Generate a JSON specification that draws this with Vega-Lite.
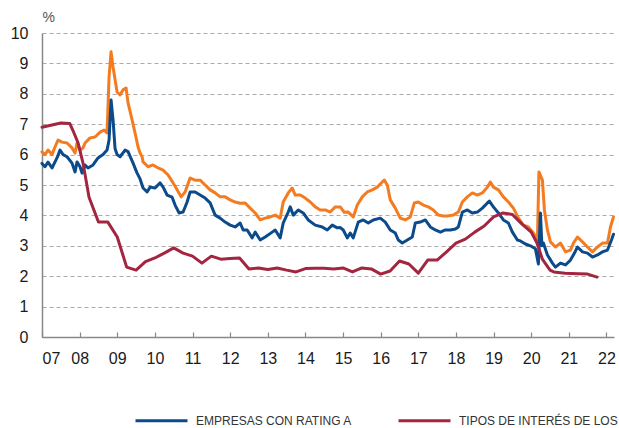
{
"$schema": "https://vega.github.io/schema/vega-lite/v6.json",
"width": 572, "height": 304,
"autosize": {"type": "none"},
"padding": {"left": 42, "top": 33, "right": 5, "bottom": 91},
"background": "white",
"config": {"view": {"stroke": null}, "font": "Liberation Sans"},
"data": {"values": [
{"s":"BBB","t":2007.000,"v":6.09},{"s":"BBB","t":2007.080,"v":6.00},{"s":"BBB","t":2007.160,"v":6.15},{"s":"BBB","t":2007.266,"v":6.00},{"s":"BBB","t":2007.346,"v":6.25},{"s":"BBB","t":2007.426,"v":6.48},{"s":"BBB","t":2007.532,"v":6.41},{"s":"BBB","t":2007.665,"v":6.38},{"s":"BBB","t":2007.798,"v":6.22},{"s":"BBB","t":2007.878,"v":6.05},{"s":"BBB","t":2007.931,"v":6.38},{"s":"BBB","t":2008.011,"v":6.15},{"s":"BBB","t":2008.090,"v":6.22},{"s":"BBB","t":2008.144,"v":6.38},{"s":"BBB","t":2008.277,"v":6.55},{"s":"BBB","t":2008.410,"v":6.58},{"s":"BBB","t":2008.543,"v":6.74},{"s":"BBB","t":2008.649,"v":6.81},{"s":"BBB","t":2008.729,"v":6.71},{"s":"BBB","t":2008.782,"v":8.55},{"s":"BBB","t":2008.835,"v":9.38},{"s":"BBB","t":2008.888,"v":8.88},{"s":"BBB","t":2008.995,"v":8.06},{"s":"BBB","t":2009.074,"v":7.96},{"s":"BBB","t":2009.154,"v":8.13},{"s":"BBB","t":2009.234,"v":8.19},{"s":"BBB","t":2009.287,"v":7.70},{"s":"BBB","t":2009.394,"v":7.14},{"s":"BBB","t":2009.473,"v":6.71},{"s":"BBB","t":2009.553,"v":6.25},{"s":"BBB","t":2009.606,"v":6.05},{"s":"BBB","t":2009.660,"v":5.93},{"s":"BBB","t":2009.686,"v":5.76},{"s":"BBB","t":2009.819,"v":5.60},{"s":"BBB","t":2009.952,"v":5.66},{"s":"BBB","t":2010.085,"v":5.56},{"s":"BBB","t":2010.218,"v":5.49},{"s":"BBB","t":2010.351,"v":5.33},{"s":"BBB","t":2010.484,"v":5.07},{"s":"BBB","t":2010.590,"v":4.84},{"s":"BBB","t":2010.697,"v":4.61},{"s":"BBB","t":2010.803,"v":4.77},{"s":"BBB","t":2010.936,"v":5.23},{"s":"BBB","t":2011.069,"v":5.16},{"s":"BBB","t":2011.202,"v":5.16},{"s":"BBB","t":2011.335,"v":5.00},{"s":"BBB","t":2011.468,"v":4.84},{"s":"BBB","t":2011.601,"v":4.74},{"s":"BBB","t":2011.734,"v":4.61},{"s":"BBB","t":2011.867,"v":4.61},{"s":"BBB","t":2012.000,"v":4.51},{"s":"BBB","t":2012.133,"v":4.44},{"s":"BBB","t":2012.266,"v":4.40},{"s":"BBB","t":2012.399,"v":4.41},{"s":"BBB","t":2012.532,"v":4.24},{"s":"BBB","t":2012.665,"v":4.08},{"s":"BBB","t":2012.798,"v":3.85},{"s":"BBB","t":2012.931,"v":3.91},{"s":"BBB","t":2013.064,"v":3.95},{"s":"BBB","t":2013.197,"v":4.01},{"s":"BBB","t":2013.330,"v":3.91},{"s":"BBB","t":2013.410,"v":4.44},{"s":"BBB","t":2013.543,"v":4.74},{"s":"BBB","t":2013.649,"v":4.90},{"s":"BBB","t":2013.729,"v":4.67},{"s":"BBB","t":2013.862,"v":4.67},{"s":"BBB","t":2013.995,"v":4.57},{"s":"BBB","t":2014.128,"v":4.44},{"s":"BBB","t":2014.261,"v":4.28},{"s":"BBB","t":2014.394,"v":4.18},{"s":"BBB","t":2014.527,"v":4.18},{"s":"BBB","t":2014.660,"v":4.11},{"s":"BBB","t":2014.793,"v":4.28},{"s":"BBB","t":2014.926,"v":4.28},{"s":"BBB","t":2015.032,"v":4.10},{"s":"BBB","t":2015.138,"v":4.11},{"s":"BBB","t":2015.271,"v":3.95},{"s":"BBB","t":2015.378,"v":4.34},{"s":"BBB","t":2015.511,"v":4.61},{"s":"BBB","t":2015.644,"v":4.77},{"s":"BBB","t":2015.777,"v":4.84},{"s":"BBB","t":2015.910,"v":4.93},{"s":"BBB","t":2016.043,"v":5.10},{"s":"BBB","t":2016.096,"v":5.16},{"s":"BBB","t":2016.176,"v":5.00},{"s":"BBB","t":2016.255,"v":4.51},{"s":"BBB","t":2016.388,"v":4.24},{"s":"BBB","t":2016.521,"v":3.91},{"s":"BBB","t":2016.654,"v":3.85},{"s":"BBB","t":2016.787,"v":3.95},{"s":"BBB","t":2016.894,"v":4.41},{"s":"BBB","t":2017.000,"v":4.44},{"s":"BBB","t":2017.133,"v":4.34},{"s":"BBB","t":2017.266,"v":4.28},{"s":"BBB","t":2017.399,"v":4.18},{"s":"BBB","t":2017.532,"v":4.01},{"s":"BBB","t":2017.665,"v":3.98},{"s":"BBB","t":2017.771,"v":3.98},{"s":"BBB","t":2017.931,"v":4.01},{"s":"BBB","t":2018.064,"v":4.11},{"s":"BBB","t":2018.170,"v":4.44},{"s":"BBB","t":2018.303,"v":4.61},{"s":"BBB","t":2018.436,"v":4.74},{"s":"BBB","t":2018.569,"v":4.67},{"s":"BBB","t":2018.702,"v":4.74},{"s":"BBB","t":2018.835,"v":4.93},{"s":"BBB","t":2018.915,"v":5.10},{"s":"BBB","t":2018.995,"v":4.93},{"s":"BBB","t":2019.128,"v":4.84},{"s":"BBB","t":2019.261,"v":4.61},{"s":"BBB","t":2019.394,"v":4.44},{"s":"BBB","t":2019.527,"v":4.24},{"s":"BBB","t":2019.660,"v":3.91},{"s":"BBB","t":2019.793,"v":3.68},{"s":"BBB","t":2019.926,"v":3.62},{"s":"BBB","t":2020.059,"v":3.42},{"s":"BBB","t":2020.165,"v":3.19},{"s":"BBB","t":2020.205,"v":5.43},{"s":"BBB","t":2020.298,"v":5.16},{"s":"BBB","t":2020.351,"v":4.18},{"s":"BBB","t":2020.431,"v":3.52},{"s":"BBB","t":2020.511,"v":3.13},{"s":"BBB","t":2020.644,"v":2.96},{"s":"BBB","t":2020.777,"v":3.09},{"s":"BBB","t":2020.910,"v":2.80},{"s":"BBB","t":2021.043,"v":2.86},{"s":"BBB","t":2021.122,"v":3.09},{"s":"BBB","t":2021.229,"v":3.29},{"s":"BBB","t":2021.362,"v":3.13},{"s":"BBB","t":2021.495,"v":2.96},{"s":"BBB","t":2021.628,"v":2.80},{"s":"BBB","t":2021.761,"v":2.96},{"s":"BBB","t":2021.894,"v":3.09},{"s":"BBB","t":2022.027,"v":3.09},{"s":"BBB","t":2022.106,"v":3.62},{"s":"BBB","t":2022.186,"v":3.95},
{"s":"A","t":2007.000,"v":5.71},{"s":"A","t":2007.080,"v":5.60},{"s":"A","t":2007.160,"v":5.75},{"s":"A","t":2007.266,"v":5.56},{"s":"A","t":2007.399,"v":5.89},{"s":"A","t":2007.479,"v":6.15},{"s":"A","t":2007.559,"v":6.00},{"s":"A","t":2007.665,"v":5.93},{"s":"A","t":2007.798,"v":5.72},{"s":"A","t":2007.878,"v":5.43},{"s":"A","t":2007.931,"v":5.76},{"s":"A","t":2008.011,"v":5.60},{"s":"A","t":2008.064,"v":5.39},{"s":"A","t":2008.144,"v":5.66},{"s":"A","t":2008.223,"v":5.56},{"s":"A","t":2008.356,"v":5.66},{"s":"A","t":2008.489,"v":5.89},{"s":"A","t":2008.622,"v":6.00},{"s":"A","t":2008.729,"v":6.15},{"s":"A","t":2008.782,"v":6.48},{"s":"A","t":2008.835,"v":7.80},{"s":"A","t":2008.888,"v":7.14},{"s":"A","t":2008.941,"v":6.20},{"s":"A","t":2008.995,"v":6.00},{"s":"A","t":2009.074,"v":5.93},{"s":"A","t":2009.207,"v":6.15},{"s":"A","t":2009.287,"v":6.10},{"s":"A","t":2009.420,"v":5.72},{"s":"A","t":2009.527,"v":5.39},{"s":"A","t":2009.606,"v":5.20},{"s":"A","t":2009.686,"v":4.90},{"s":"A","t":2009.793,"v":4.77},{"s":"A","t":2009.872,"v":4.93},{"s":"A","t":2010.005,"v":4.90},{"s":"A","t":2010.138,"v":5.07},{"s":"A","t":2010.218,"v":4.93},{"s":"A","t":2010.324,"v":4.67},{"s":"A","t":2010.457,"v":4.60},{"s":"A","t":2010.537,"v":4.34},{"s":"A","t":2010.644,"v":4.08},{"s":"A","t":2010.750,"v":4.11},{"s":"A","t":2010.856,"v":4.44},{"s":"A","t":2010.936,"v":4.77},{"s":"A","t":2011.069,"v":4.77},{"s":"A","t":2011.202,"v":4.67},{"s":"A","t":2011.335,"v":4.57},{"s":"A","t":2011.468,"v":4.41},{"s":"A","t":2011.601,"v":4.01},{"s":"A","t":2011.734,"v":3.91},{"s":"A","t":2011.867,"v":3.78},{"s":"A","t":2012.000,"v":3.68},{"s":"A","t":2012.133,"v":3.62},{"s":"A","t":2012.266,"v":3.75},{"s":"A","t":2012.346,"v":3.52},{"s":"A","t":2012.452,"v":3.52},{"s":"A","t":2012.585,"v":3.26},{"s":"A","t":2012.665,"v":3.45},{"s":"A","t":2012.798,"v":3.19},{"s":"A","t":2012.931,"v":3.29},{"s":"A","t":2013.117,"v":3.45},{"s":"A","t":2013.197,"v":3.52},{"s":"A","t":2013.330,"v":3.26},{"s":"A","t":2013.410,"v":3.75},{"s":"A","t":2013.543,"v":4.11},{"s":"A","t":2013.596,"v":4.28},{"s":"A","t":2013.676,"v":4.01},{"s":"A","t":2013.809,"v":4.18},{"s":"A","t":2013.941,"v":4.08},{"s":"A","t":2014.074,"v":3.85},{"s":"A","t":2014.261,"v":3.68},{"s":"A","t":2014.447,"v":3.62},{"s":"A","t":2014.580,"v":3.52},{"s":"A","t":2014.713,"v":3.68},{"s":"A","t":2014.846,"v":3.59},{"s":"A","t":2014.926,"v":3.60},{"s":"A","t":2015.005,"v":3.52},{"s":"A","t":2015.112,"v":3.26},{"s":"A","t":2015.191,"v":3.42},{"s":"A","t":2015.271,"v":3.26},{"s":"A","t":2015.404,"v":3.78},{"s":"A","t":2015.537,"v":3.85},{"s":"A","t":2015.670,"v":3.75},{"s":"A","t":2015.803,"v":3.85},{"s":"A","t":2015.989,"v":3.91},{"s":"A","t":2016.122,"v":3.78},{"s":"A","t":2016.255,"v":3.52},{"s":"A","t":2016.388,"v":3.42},{"s":"A","t":2016.468,"v":3.19},{"s":"A","t":2016.574,"v":3.09},{"s":"A","t":2016.707,"v":3.19},{"s":"A","t":2016.840,"v":3.29},{"s":"A","t":2016.920,"v":3.75},{"s":"A","t":2017.053,"v":3.78},{"s":"A","t":2017.186,"v":3.85},{"s":"A","t":2017.319,"v":3.62},{"s":"A","t":2017.452,"v":3.52},{"s":"A","t":2017.585,"v":3.45},{"s":"A","t":2017.718,"v":3.52},{"s":"A","t":2017.851,"v":3.52},{"s":"A","t":2017.984,"v":3.55},{"s":"A","t":2018.064,"v":3.62},{"s":"A","t":2018.170,"v":4.11},{"s":"A","t":2018.303,"v":4.18},{"s":"A","t":2018.436,"v":4.08},{"s":"A","t":2018.569,"v":4.11},{"s":"A","t":2018.702,"v":4.24},{"s":"A","t":2018.835,"v":4.41},{"s":"A","t":2018.888,"v":4.47},{"s":"A","t":2018.995,"v":4.28},{"s":"A","t":2019.128,"v":4.08},{"s":"A","t":2019.261,"v":3.85},{"s":"A","t":2019.394,"v":3.75},{"s":"A","t":2019.500,"v":3.45},{"s":"A","t":2019.633,"v":3.19},{"s":"A","t":2019.713,"v":3.16},{"s":"A","t":2019.846,"v":3.06},{"s":"A","t":2019.979,"v":3.00},{"s":"A","t":2020.112,"v":2.90},{"s":"A","t":2020.191,"v":2.40},{"s":"A","t":2020.245,"v":4.08},{"s":"A","t":2020.285,"v":3.00},{"s":"A","t":2020.324,"v":3.09},{"s":"A","t":2020.431,"v":2.70},{"s":"A","t":2020.564,"v":2.43},{"s":"A","t":2020.644,"v":2.30},{"s":"A","t":2020.777,"v":2.43},{"s":"A","t":2020.910,"v":2.37},{"s":"A","t":2021.043,"v":2.53},{"s":"A","t":2021.149,"v":2.76},{"s":"A","t":2021.229,"v":2.96},{"s":"A","t":2021.362,"v":2.80},{"s":"A","t":2021.495,"v":2.76},{"s":"A","t":2021.628,"v":2.63},{"s":"A","t":2021.761,"v":2.70},{"s":"A","t":2021.894,"v":2.80},{"s":"A","t":2022.027,"v":2.86},{"s":"A","t":2022.133,"v":3.19},{"s":"A","t":2022.186,"v":3.38},
{"s":"P","t":2007.0,"v":6.9},{"s":"P","t":2007.5,"v":7.04},{"s":"P","t":2007.74,"v":7.02},{"s":"P","t":2007.82,"v":6.8},{"s":"P","t":2007.96,"v":6.38},{"s":"P","t":2008.09,"v":5.72},{"s":"P","t":2008.25,"v":4.6},{"s":"P","t":2008.5,"v":3.78},{"s":"P","t":2008.75,"v":3.78},{"s":"P","t":2009.0,"v":3.29},{"s":"P","t":2009.25,"v":2.3},{"s":"P","t":2009.5,"v":2.2},{"s":"P","t":2009.75,"v":2.48},{"s":"P","t":2010.0,"v":2.6},{"s":"P","t":2010.25,"v":2.76},{"s":"P","t":2010.5,"v":2.93},{"s":"P","t":2010.75,"v":2.76},{"s":"P","t":2011.0,"v":2.66},{"s":"P","t":2011.25,"v":2.43},{"s":"P","t":2011.5,"v":2.66},{"s":"P","t":2011.75,"v":2.56},{"s":"P","t":2012.0,"v":2.58},{"s":"P","t":2012.25,"v":2.6},{"s":"P","t":2012.5,"v":2.24},{"s":"P","t":2012.75,"v":2.27},{"s":"P","t":2013.0,"v":2.22},{"s":"P","t":2013.25,"v":2.27},{"s":"P","t":2013.5,"v":2.2},{"s":"P","t":2013.75,"v":2.14},{"s":"P","t":2014.0,"v":2.25},{"s":"P","t":2014.25,"v":2.26},{"s":"P","t":2014.5,"v":2.26},{"s":"P","t":2014.75,"v":2.24},{"s":"P","t":2015.0,"v":2.27},{"s":"P","t":2015.25,"v":2.14},{"s":"P","t":2015.5,"v":2.27},{"s":"P","t":2015.75,"v":2.24},{"s":"P","t":2016.0,"v":2.07},{"s":"P","t":2016.25,"v":2.17},{"s":"P","t":2016.5,"v":2.5},{"s":"P","t":2016.75,"v":2.4},{"s":"P","t":2017.0,"v":2.1},{"s":"P","t":2017.25,"v":2.53},{"s":"P","t":2017.5,"v":2.53},{"s":"P","t":2017.75,"v":2.8},{"s":"P","t":2018.0,"v":3.09},{"s":"P","t":2018.25,"v":3.22},{"s":"P","t":2018.5,"v":3.45},{"s":"P","t":2018.75,"v":3.65},{"s":"P","t":2019.0,"v":3.95},{"s":"P","t":2019.25,"v":4.08},{"s":"P","t":2019.5,"v":4.03},{"s":"P","t":2019.75,"v":3.72},{"s":"P","t":2020.0,"v":3.45},{"s":"P","t":2020.15,"v":3.1},{"s":"P","t":2020.3,"v":2.55},{"s":"P","t":2020.5,"v":2.2},{"s":"P","t":2020.6,"v":2.14},{"s":"P","t":2020.9,"v":2.1},{"s":"P","t":2021.25,"v":2.08},{"s":"P","t":2021.5,"v":2.07},{"s":"P","t":2021.75,"v":1.97}
]},
"mark": {"type": "line", "strokeJoin": "round", "strokeCap": "round"},
"encoding": {
  "x": {"field": "t", "type": "quantitative",
    "scale": {"domain": [2007, 2022.2], "nice": false, "zero": false},
    "axis": {"values": [2007,2008,2009,2010,2011,2012,2013,2014,2015,2016,2017,2018,2019,2020,2021,2022],
      "labelExpr": "substring(toString(datum.value), 2)", "title": null, "grid": false,
      "tickSize": -5, "tickColor": "#888", "tickWidth": 1.2, "domainColor": "#888", "domainWidth": 1.5,
      "labelPadding": 18, "labelFontSize": 16, "labelColor": "#1a1a1a", "labelFont": "Liberation Sans"}},
  "y": {"field": "v", "type": "quantitative",
    "scale": {"domain": [0, 10], "nice": false},
    "axis": {"values": [0,1,2,3,4,5,6,7,8,9,10], "tickSize": 0, "labelPadding": 14, "labelFontSize": 16,
      "labelColor": "#1a1a1a", "labelFont": "Liberation Sans", "domainColor": "#888", "domainWidth": 1.5,
      "grid": true, "gridDash": [4, 3], "gridColor": "#aaa", "gridWidth": 1.2,
      "title": "%", "titleAngle": 0, "titleX": 0, "titleY": -12, "titleAlign": "left", "titleBaseline": "alphabetic",
      "titleFontWeight": "normal", "titleFontSize": 14, "titleColor": "#555", "titleFont": "Liberation Sans"}},
  "color": {"field": "s", "type": "nominal",
    "scale": {"domain": ["BBB", "A", "P"], "range": ["#F47B20", "#0B4A8B", "#A3253F"]},
    "legend": {"orient": "none", "legendX": 92, "legendY": 360, "direction": "horizontal", "values": ["A", "P"],
      "title": null, "symbolType": "stroke", "symbolSize": 2704, "symbolStrokeWidth": 3.5,
      "labelFontSize": 12, "labelFont": "Liberation Sans", "labelColor": "#333",
      "labelOffset": 7, "columnPadding": 40, "labelLimit": 500,
      "labelExpr": "datum.value == 'A' ? 'EMPRESAS CON RATING A' : 'TIPOS DE INTERÉS DE LOS PRÉSTAMOS BANCARIOS'"}},
  "strokeWidth": {"field": "s", "type": "nominal",
    "scale": {"domain": ["BBB", "A", "P"], "range": [3, 3, 2.5]}, "legend": null},
  "order": {"field": "t", "type": "quantitative"}
}
}
